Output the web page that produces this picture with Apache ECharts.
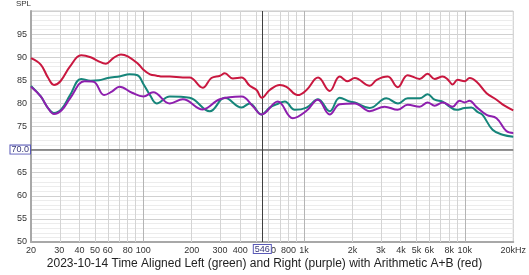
<!DOCTYPE html>
<html>
<head>
<meta charset="utf-8">
<script src="https://cdn.jsdelivr.net/npm/echarts@6/dist/echarts.min.js"></script>
<style>
  html, body { margin: 0; padding: 0; background: #fff; }
  #chart { width: 529px; height: 275px; }
</style>
</head>
<body>
<div id="chart"></div>
<script>
// frequency response, Hz / dB SPL
const redFreq = [20, 23, 25.5, 27.8, 30.5, 35, 41, 47, 52, 58.5, 65, 72.5, 80, 92.5, 100, 110, 121, 132, 146, 176, 194, 234, 265, 300, 321, 360, 408, 459, 506, 546, 611, 706, 777, 913, 1035, 1222, 1443, 1665, 1866, 2065, 2559, 2828, 3312, 3820, 4408, 5234, 5866, 6488, 7275, 7815, 8395, 9016, 9964, 10700, 11830, 13650, 15740, 17650, 20000];
const redDb = [89.8, 88.4, 85.6, 84.0, 84.8, 88.0, 90.4, 90.0, 89.2, 88.6, 89.8, 90.6, 90.2, 88.6, 87.3, 86.3, 86.0, 85.8, 85.8, 85.6, 85.6, 83.4, 85.5, 86.0, 86.5, 85.4, 85.6, 83.8, 82.9, 81.2, 82.9, 84.0, 83.6, 81.8, 82.9, 85.6, 82.7, 85.8, 84.8, 85.5, 83.8, 85.1, 85.8, 83.5, 86.1, 85.3, 86.4, 85.3, 85.8, 85.2, 84.1, 85.1, 84.8, 85.5, 84.7, 82.2, 80.8, 79.5, 78.5];

const greenFreq = [20, 23, 25.5, 27.8, 31, 35, 41, 47, 53, 60, 72, 82, 92, 100, 110, 121, 146, 194, 259, 321, 408, 459, 543, 611, 673, 759, 875, 1035, 1222, 1443, 1665, 1921, 2065, 2559, 3250, 3837, 4408, 5234, 5866, 6488, 7275, 8040, 8846, 9964, 10970, 12050, 12890, 14870, 17170, 20000];
const greenDb = [83.8, 81.5, 79.0, 77.9, 78.8, 81.8, 85.3, 84.9, 85.0, 85.5, 85.9, 86.3, 86.1, 84.2, 81.8, 80.0, 81.5, 81.2, 78.3, 81.2, 79.1, 80.0, 77.6, 79.1, 79.8, 80.4, 78.6, 79.1, 80.9, 78.3, 81.2, 80.4, 80.2, 79.0, 81.1, 80.0, 81.1, 81.1, 82.0, 80.8, 80.4, 79.3, 78.6, 79.0, 79.1, 78.1, 77.5, 74.3, 73.2, 72.8];

const purpleFreq = [20, 23, 25.5, 27.8, 31, 35, 43, 49, 57, 64, 71, 85, 100, 115, 146, 176, 234, 299, 408, 480, 543, 686, 850, 1035, 1217, 1443, 1665, 2065, 2559, 3170, 3820, 4408, 5234, 5866, 6488, 7275, 8395, 9270, 9964, 10700, 11740, 13650, 15740, 18120, 20000];
const purpleDb = [83.6, 81.5, 79.0, 77.7, 78.5, 81.1, 84.8, 84.7, 81.8, 82.6, 83.6, 82.3, 81.5, 82.4, 80.0, 80.9, 78.7, 80.9, 81.5, 79.4, 77.6, 80.4, 76.8, 78.4, 80.8, 77.6, 79.8, 80.0, 78.3, 79.3, 78.6, 79.7, 79.3, 80.2, 79.5, 80.2, 79.3, 80.6, 80.2, 80.6, 79.3, 77.5, 76.8, 74.0, 73.6];

// 500 sits under the cursor box in the reference, so it is left out
const tickFreqs = [20, 30, 40, 50, 60, 80, 100, 200, 300, 400, 600, 800, 1000, 2000, 3000, 4000, 5000, 6000, 8000, 10000, 20000];
const tickLabels = ['20', '30', '40', '50', '60', '80', '100', '200', '300', '400', '600', '800', '1k', '2k', '3k', '4k', '5k', '6k', '8k', '10k', '20kHz'];
const gridFreqs = [30, 40, 50, 60, 70, 80, 90, 100, 200, 300, 400, 500, 600, 700, 800, 900, 1000, 2000, 3000, 4000, 5000, 6000, 7000, 8000, 9000, 10000];
const cursorFreq = 546;
const cursorDb = 70;

const lg = Math.log10;
const pairs = (f, d) => f.map((v, i) => [lg(v), d[i]]);

const chart = echarts.init(document.getElementById('chart'));
const font = 'Liberation Sans';

function curve(name, color, f, d) {
  return {
    name, type: 'line', smooth: 0.4, showSymbol: false, z: 5,
    data: pairs(f, d),
    lineStyle: { color, width: 2 },
    itemStyle: { color },
  };
}

const boxLabel = {
  fontSize: 9, color: '#3a3a7a', backgroundColor: '#fff',
  borderColor: '#5a5ab8', borderWidth: 1, padding: [0, 1, -1, 1],
};

chart.setOption({
  animation: false,
  textStyle: { fontFamily: font },
  title: {
    text: '2023-10-14 Time Aligned Left (green) and Right (purple) with Arithmetic A+B (red)',
    left: 'center', top: 253,
    textStyle: { fontSize: 12, fontWeight: 'normal', color: '#222', fontFamily: font },
  },
  grid: { left: 31, right: 15, top: 9, bottom: 33, show: true, borderColor: '#c8c8c8', borderWidth: 1 },
  xAxis: {
    type: 'value', min: lg(20), max: lg(20000),
    axisLine: { show: true, lineStyle: { color: '#a8a8a8', width: 2 } },
    axisTick: { show: false },
    splitLine: { show: false },
    axisLabel: {
      customValues: tickFreqs.map(lg),
      fontSize: 9, color: '#333', margin: 4,
      formatter: (v) => {
        const i = tickFreqs.findIndex((f) => Math.abs(lg(f) - v) < 1e-6);
        return i >= 0 ? tickLabels[i] : '';
      },
    },
  },
  yAxis: {
    type: 'value', min: 50, max: 100, interval: 5,
    name: 'SPL', nameGap: 3,
    nameTextStyle: { fontSize: 8, color: '#333', align: 'right' },
    axisLine: { show: true, lineStyle: { color: '#a8a8a8', width: 2 } },
    axisTick: { show: false },
    axisLabel: { fontSize: 9, color: '#333', margin: 4, formatter: (v) => (v === 100 ? '' : String(v)) },
    splitLine: { lineStyle: { color: '#d0d0d0', width: 1 } },
    minorTick: { show: false, splitNumber: 5 },
    minorSplitLine: { show: true, lineStyle: { color: '#ececec', width: 1 } },
  },
  series: [
    {
      name: 'grid', type: 'line', data: [], silent: true, z: 1,
      markLine: {
        silent: true, symbol: ['none', 'none'], animation: false,
        label: { show: false },
        data: gridFreqs.map((f) => ({
          xAxis: lg(f),
          lineStyle: { color: [100, 1000, 10000].includes(f) ? '#b4b4b4' : '#d4d4d4', width: 1, type: 'solid' },
        })),
      },
    },
    {
      name: 'cursor', type: 'line', data: [], silent: true, z: 3,
      markLine: {
        silent: true, symbol: ['none', 'none'], animation: false,
        data: [
          {
            yAxis: cursorDb,
            lineStyle: { color: '#707070', width: 1.5, type: 'solid' },
            label: { ...boxLabel, position: 'start', distance: 1, formatter: cursorDb.toFixed(1) },
          },
          {
            xAxis: lg(cursorFreq),
            lineStyle: { color: '#404040', width: 1, type: 'solid' },
            label: { ...boxLabel, position: 'start', distance: 3, formatter: String(cursorFreq) },
          },
        ],
      },
    },
    curve('Arithmetic A+B', '#c9173f', redFreq, redDb),
    curve('Left', '#16857a', greenFreq, greenDb),
    curve('Right', '#8e1fae', purpleFreq, purpleDb),
  ],
});
</script>
</body>
</html>
